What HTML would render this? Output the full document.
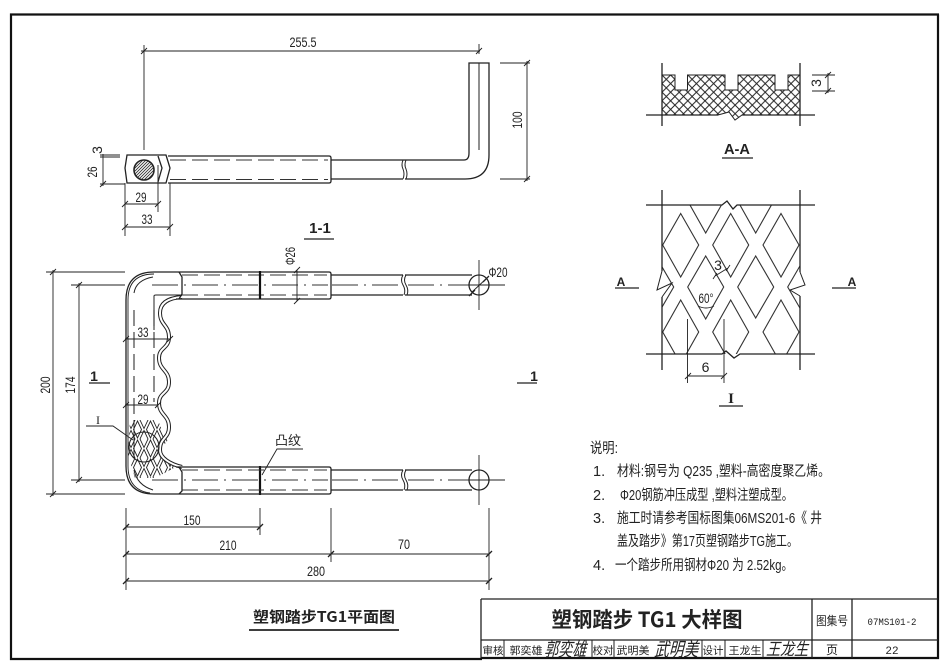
<!DOCTYPE html>
<html><head><meta charset="utf-8"><style>
html,body{margin:0;padding:0;background:#fff}
svg{display:block;filter:blur(.35px)}
text{font-family:"Liberation Sans","Noto Sans CJK SC",sans-serif;fill:#222}
.d{font-size:14px;text-anchor:middle}
.c{font-family:"Noto Sans CJK SC","Liberation Sans",sans-serif;text-anchor:middle}
.n{font-size:14.5px;font-family:"Liberation Sans","Noto Sans CJK SC",sans-serif}
.l{fill:none;stroke:#222;stroke-width:1}
.m{fill:none;stroke:#222;stroke-width:1.3}
.t{fill:none;stroke:#222;stroke-width:.9}
.b{fill:none;stroke:#111;stroke-width:2.2}
.das{fill:none;stroke:#333;stroke-width:1.1;stroke-dasharray:16 6}
.cen{fill:none;stroke:#333;stroke-width:.9;stroke-dasharray:26 6 2 6}
</style></head><body>
<svg width="950" height="672" viewBox="0 0 950 672" xmlns="http://www.w3.org/2000/svg">
<defs>
<pattern id="cross" patternUnits="userSpaceOnUse" width="8.6" height="8.6" x="662" y="75">
<path d="M0 0L8.6 8.6M8.6 0L0 8.6" stroke="#222" stroke-width="1" fill="none"/>
</pattern>
<pattern id="hat" patternUnits="userSpaceOnUse" width="3" height="3">
<path d="M-1 4L4 -1M-1 1L1 -1M2 4L4 2" stroke="#333" stroke-width=".9"/>
</pattern>
<pattern id="dia" patternUnits="userSpaceOnUse" width="13" height="19" x="131" y="420">
<path d="M6.5 1L10.5 9.5L6.5 18L2.5 9.5Z" fill="none" stroke="#222" stroke-width=".9"/>
<path d="M0 -8.5L4 0L0 8.5L-4 0ZM13 -8.5L17 0L13 8.5L9 0ZM0 10.5L4 19L0 27.5L-4 19ZM13 10.5L17 19L13 27.5L9 19Z" fill="none" stroke="#222" stroke-width=".9"/>
</pattern>
<clipPath id="ic"><rect x="662" y="205" width="138" height="149"/></clipPath>
</defs>

<!-- frame -->
<path d="M939 14.5H11V659H482" class="b"/>
<path d="M938 14.5V659" class="b"/>
<path d="M481 658H939" class="b"/>
<path d="M481 599H938M481 599V658M481 640H938M812 599V658M852 599V658" class="m"/>
<path d="M504 640V658M592 640V658M614 640V658M702 640V658M725 640V658M763 640V658" class="l"/>
<text class="c" x="647" y="627" font-size="21" font-weight="700" textLength="191" lengthAdjust="spacingAndGlyphs">塑钢踏步 TG1 大样图</text>
<text class="c" x="832" y="625" font-size="12" textLength="32" lengthAdjust="spacingAndGlyphs">图集号</text>
<text x="892" y="625" font-size="10.5" text-anchor="middle" style="font-family:'Liberation Mono',monospace" textLength="49" lengthAdjust="spacingAndGlyphs">07MS101-2</text>
<text class="c" x="832" y="654" font-size="12">页</text>
<text x="892" y="654" font-size="11" text-anchor="middle" style="font-family:'Liberation Mono',monospace">22</text>
<text class="c" x="493" y="654" font-size="10.5" textLength="21" lengthAdjust="spacingAndGlyphs">审核</text>
<text class="c" x="526" y="654" font-size="10.5" textLength="33" lengthAdjust="spacingAndGlyphs">郭奕雄</text>
<text class="c" x="603" y="654" font-size="10.5" textLength="21" lengthAdjust="spacingAndGlyphs">校对</text>
<text class="c" x="633" y="654" font-size="10.5" textLength="33" lengthAdjust="spacingAndGlyphs">武明美</text>
<text class="c" x="713" y="654" font-size="10.5" textLength="21" lengthAdjust="spacingAndGlyphs">设计</text>
<text class="c" x="745" y="654" font-size="10.5" textLength="33" lengthAdjust="spacingAndGlyphs">王龙生</text>
<text class="c" font-size="19" transform="translate(565,656) skewX(-14)" textLength="42" lengthAdjust="spacingAndGlyphs">郭奕雄</text>
<text class="c" font-size="19" transform="translate(676,656) skewX(-14)" textLength="44" lengthAdjust="spacingAndGlyphs">武明美</text>
<text class="c" font-size="17" transform="translate(787,655) skewX(-14)" textLength="42" lengthAdjust="spacingAndGlyphs">王龙生</text>

<!-- 1-1 -->
<path d="M141 51H480M144 45V150M479 44V54M141 54L147 48M476 54L482 48" class="t"/>
<text class="d" x="303" y="47" textLength="27" lengthAdjust="spacingAndGlyphs">255.5</text>
<path d="M403 160H464Q469 160 469 153V63H489V155Q489 179 465 179H405" class="m"/>
<path d="M479 63V150" class="l"/>
<path d="M403 160Q401 165 403 169Q405 174 403 179M406 160Q404 165 406 169Q408 174 406 179" class="l"/>
<path d="M331 160H403M331 179H403" class="m"/>
<path d="M127 155H166L170 168L166 183H127L125 168Z" class="m"/>
<path d="M158 156L162 168L158 182M168 156H329Q331 156 331 158V181Q331 183 329 183H168" class="m"/>
<path d="M170 160H328M170 179.500H328" class="das"/>
<circle cx="144" cy="170" r="10" fill="url(#hat)" stroke="#222" stroke-width="1.6"/>
<path d="M100 155H120M100 157H120M100 184H125M103 154V186M100 187L106 181" class="t"/>
<text class="d" transform="translate(97,172) rotate(-90)" x="0" y="0" textLength="11" lengthAdjust="spacingAndGlyphs">26</text>
<text class="d" transform="translate(102,150) rotate(-90)" font-size="12">3</text>
<path d="M125 183V236M158 165V212M170 183V236M125 204H158M125 227H170M122 207L128 201M155 207L161 201M122 230L128 224M167 230L173 224" class="t"/>
<text class="d" x="141" y="202" textLength="11" lengthAdjust="spacingAndGlyphs">29</text>
<text class="d" x="147" y="224" textLength="11" lengthAdjust="spacingAndGlyphs">33</text>
<path d="M500 63H530M500 179H530M527 61V181M524 66L530 60M524 182L530 176" class="t"/>
<text class="d" transform="translate(522,120) rotate(-90)" textLength="17" lengthAdjust="spacingAndGlyphs">100</text>
<text x="320" y="233" font-size="15" font-weight="700" text-anchor="middle" style="font-family:'Liberation Sans'">1-1</text>
<path d="M304 239H334" class="m"/>

<!-- plan -->
<path d="M131 420H158Q162 432 168 440L160 450Q162 461 178 466L155 478L135 478L128 455L130 420Z" fill="url(#dia)"/>
<path d="M182 297C168 298 160 303 160 313C160 325 169 325 169 337C169 349 159 347 159 358C159 370 169 370 169 382C169 394 159 392 159 403C159 415 169 415 169 427C169 439 160 437 160 450C160 458 170 464 182 467" fill="none" stroke="#222" stroke-width="4"/>
<path d="M182 297C168 298 160 303 160 313C160 325 169 325 169 337C169 349 159 347 159 358C159 370 169 370 169 382C169 394 159 392 159 403C159 415 169 415 169 427C169 439 160 437 160 450C160 458 170 464 182 467" fill="none" stroke="#fff" stroke-width="2"/>
<path d="M176 272H154Q126 272 126 300V466Q126 494 154 494H176" class="m"/>
<path d="M179 272L182 277V294L179 299M179 467L182 472V491L179 494" class="m"/>
<path d="M128 300Q128 274 154 274M128 300V466Q128 490 150 493" class="t"/>
<path d="M134 293Q136 280 153 277M134 470Q137 485 153 490" class="l"/>
<path d="M134 310V418M154 310V402" class="das"/>
<path d="M154 330V296Q154 295 156 295H182M134 420V458" class="l"/>
<!-- upper bar -->
<path d="M176 272H329Q331 272 331 274V297Q331 299 329 299H176" class="m"/>
<path d="M182 275H327M182 295H327" class="das"/>
<path d="M152 285H328" class="cen"/>
<path d="M331 275H403M331 295H403M405 275H472M405 295H472" class="m"/>
<path d="M332 285H400" class="cen"/>
<path d="M403 275Q400 280 403 285Q406 290 404 295M406 275Q403 280 406 285Q409 290 407 295" class="l"/>
<path d="M408 285H470" class="cen"/>
<circle cx="479" cy="285" r="10" class="m"/>
<path d="M479 260V310M470 285H505M472 292L487 278" class="t"/>
<path d="M469 296L475 290M483 282L489 276" class="m"/>
<text class="d" x="498" y="277" textLength="19" lengthAdjust="spacingAndGlyphs">Φ20</text>
<path d="M297 270V301M294 273L300 267M294 304L300 298" class="t"/>
<text class="d" transform="translate(295,256) rotate(-90)" textLength="18" lengthAdjust="spacingAndGlyphs">Φ26</text>
<path d="M260 271V299M260 466V495" stroke="#111" stroke-width="2.2" fill="none"/>
<!-- lower bar -->
<path d="M176 467H329Q331 467 331 469V492Q331 494 329 494H176" class="m"/>
<path d="M182 470H327M182 490H327" class="das"/>
<path d="M152 480H328" class="cen"/>
<path d="M331 470H403M331 490H403M405 470H472M405 490H472" class="m"/>
<path d="M332 480H400" class="cen"/>
<path d="M403 470Q400 475 403 480Q406 485 404 490M406 470Q403 475 406 480Q409 485 407 490" class="l"/>
<path d="M408 480H470" class="cen"/>
<circle cx="479" cy="480" r="10" class="m"/>
<path d="M479 455V505M470 480H505" class="t"/>
<!-- plan dims -->
<path d="M46 272H125M46 494H125M53 270V496M50 275L56 269M50 497L56 491" class="t"/>
<text class="d" transform="translate(50,385) rotate(-90)" textLength="17" lengthAdjust="spacingAndGlyphs">200</text>
<path d="M71 285H125M71 480H125M79 283V482M76 288L82 282M76 483L82 477" class="t"/>
<text class="d" transform="translate(75,385) rotate(-90)" textLength="17" lengthAdjust="spacingAndGlyphs">174</text>
<text x="94" y="381" font-size="14" font-weight="700" text-anchor="middle" style="font-family:'Liberation Sans'">1</text>
<path d="M89 383H110" class="m"/>
<text x="534" y="381" font-size="14" font-weight="700" text-anchor="middle" style="font-family:'Liberation Sans'">1</text>
<path d="M517 383H537" class="m"/>
<path d="M125 339H171M123 342L129 336M167 342L173 336M125 405H158M123 408L129 402M155 408L161 402" class="t"/>
<text class="d" x="143" y="337" textLength="11" lengthAdjust="spacingAndGlyphs">33</text>
<text class="d" x="143" y="404" textLength="11" lengthAdjust="spacingAndGlyphs">29</text>
<circle cx="144" cy="447" r="15" fill="none" stroke="#222" stroke-width="1.1"/>
<path d="M86 426H113L133 440" class="t"/>
<text x="98" y="424" font-size="12" text-anchor="middle" style="font-family:'Liberation Serif'">I</text>
<text class="c" x="288" y="445" font-size="13">凸纹</text>
<path d="M303 449H277L262 475" class="t"/>
<path d="M126 508V590M260 508V535M331 508V562M489 508V590M126 527H260M126 554H489M126 581H489" class="t"/>
<path d="M123 530L129 524M257 530L263 524M123 557L129 551M328 557L334 551M486 557L492 551M123 584L129 578M486 584L492 578" class="m"/>
<text class="d" x="192" y="525" textLength="17" lengthAdjust="spacingAndGlyphs">150</text>
<text class="d" x="228" y="550" textLength="17" lengthAdjust="spacingAndGlyphs">210</text>
<text class="d" x="404" y="549" textLength="12" lengthAdjust="spacingAndGlyphs">70</text>
<text class="d" x="316" y="576" textLength="18" lengthAdjust="spacingAndGlyphs">280</text>
<text class="c" x="324" y="622" font-size="15" font-weight="700" textLength="142" lengthAdjust="spacingAndGlyphs">塑钢踏步TG1平面图</text>
<path d="M249 630H399" stroke="#222" stroke-width="1.8" fill="none"/>

<!-- A-A -->
<path d="M662 75H675V90H687.500V75H725V90H738V75H775V90H788V75H800V115H742L735 120L729 112L718 115H662Z" fill="url(#cross)" stroke="#222" stroke-width="1"/>
<path d="M662 63V126M800 63V126M646 115H718M742 115H815" class="m"/>
<path d="M812 75H835M812 91H835M828 73V93M825 78L831 72M825 94L831 88" class="t"/>
<text class="d" transform="translate(821,83) rotate(-90)" font-size="12">3</text>
<text x="737" y="154" font-size="14.500" font-weight="700" text-anchor="middle" style="font-family:'Liberation Sans'" textLength="26" lengthAdjust="spacingAndGlyphs">A-A</text>
<path d="M722 158H753" class="m"/>

<!-- I detail -->
<g clip-path="url(#ic)" fill="none" stroke="#333" stroke-width="1.1">
<path d="M705.700 170L723.700 201L705.700 233L687.700 201ZM755.700 170L773.700 201L755.700 233L737.700 201Z"/>
<path d="M680.700 213.500L698.700 245L680.700 277L662.700 245ZM730.700 213.500L748.700 245L730.700 277L712.700 245ZM781 213.500L799 245L781 277L763 245Z"/>
<path d="M655.700 256L673.700 287L655.700 318L637.700 287ZM705.700 256L723.700 287L705.700 319L687.700 287ZM755.700 256L773.700 287L755.700 318L737.700 287ZM805.700 256L787.700 287L805.700 318L823.700 287Z"/>
<path d="M680.700 300L698.700 332L680.700 364L662.700 332ZM730.700 300L748.700 332L730.700 364L712.700 332ZM781 300L799 332L781 364L763 332Z"/>
</g>
<path d="M662 190V271M662 297V370M800 190V272M800 296V370" class="m"/>
<path d="M662 271L657 290L672 283L662 297M800 272L805 285L790 290L800 296" class="l"/>
<path d="M646 205H722L727 201L733 209L737 205H815M646 354H722L726 351L734 358L740 354H815" class="m"/>
<text class="d" x="718" y="270" font-size="12">3</text>
<path d="M715 276L728 268M713 279L717 273M726 271L730 265" class="t"/>
<text class="d" x="706" y="303" font-size="12" textLength="15" lengthAdjust="spacingAndGlyphs">60°</text>
<path d="M698 306Q706 310 714 306" class="t"/>
<path d="M687.500 319V383M724 319V383M687.500 376H724M685 379L691 373M721 379L727 373" class="t"/>
<text class="d" x="705.500" y="372">6</text>
<text x="731" y="403" font-size="15" font-weight="700" text-anchor="middle" style="font-family:'Liberation Serif'">I</text>
<path d="M719 406H743" class="m"/>
<text x="621" y="286" font-size="12" font-weight="700" text-anchor="middle" style="font-family:'Liberation Sans'">A</text>
<path d="M615 288H639" class="m"/>
<text x="852" y="286" font-size="12" font-weight="700" text-anchor="middle" style="font-family:'Liberation Sans'">A</text>
<path d="M832 288H856" class="m"/>

<!-- notes -->
<text class="n" x="590" y="453" textLength="28" lengthAdjust="spacingAndGlyphs">说明:</text>
<text class="n" x="593" y="476">1.</text>
<text class="n" x="617" y="476" textLength="213" lengthAdjust="spacingAndGlyphs">材料:钢号为 Q235 ,塑料-高密度聚乙烯。</text>
<text class="n" x="593" y="500">2.</text>
<text class="n" x="620" y="500" textLength="173" lengthAdjust="spacingAndGlyphs">Φ20钢筋冲压成型 ,塑料注塑成型。</text>
<text class="n" x="593" y="523">3.</text>
<text class="n" x="617" y="523" textLength="205" lengthAdjust="spacingAndGlyphs">施工时请参考国标图集06MS201-6《 井</text>
<text class="n" x="617" y="546" textLength="181" lengthAdjust="spacingAndGlyphs">盖及踏步》第17页塑钢踏步TG施工。</text>
<text class="n" x="593" y="570">4.</text>
<text class="n" x="615" y="570" textLength="178" lengthAdjust="spacingAndGlyphs">一个踏步所用钢材Φ20 为 2.52kg。</text>
</svg>
</body></html>
